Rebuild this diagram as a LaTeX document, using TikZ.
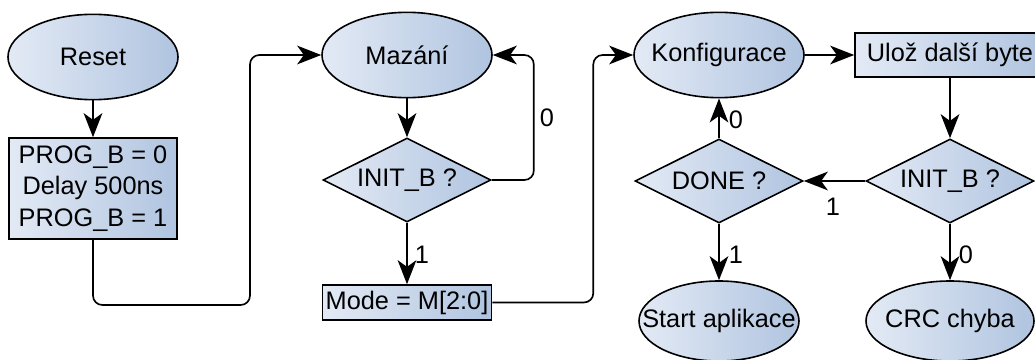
\documentclass[tikz,border=0pt]{standalone}
\usepackage{fontspec}
\setmainfont{Liberation Sans}
\usetikzlibrary{shapes.geometric,arrows.meta}
\definecolor{fillL}{HTML}{E3EAF5}
\definecolor{fillR}{HTML}{B0C4E0}
\newcommand\zw[1]{\makebox[0pt]{#1}}
\begin{document}
\begin{tikzpicture}[x=0.75pt,y=-0.75pt,
  font=\fontsize{19}{23.5}\selectfont,
  base/.style={draw=black, line width=1.2pt, left color=fillL, right color=fillR, inner sep=0pt},
  ell/.style={base, ellipse, minimum width=127.5pt, minimum height=64pt},
  dia/.style={base, diamond, minimum width=126pt, minimum height=63pt},
  box/.style={base, rectangle, align=center},
  conn/.style={draw, line width=1.25pt, rounded corners=7pt, -{Stealth[length=18pt,width=14pt,inset=5pt]}},
  lbl/.style={inner sep=0pt}]
\fill[white] (0,0) rectangle (1035,360);
\useasboundingbox (0,0) rectangle (1035,360);
% nodes
\node[ell] (reset) at (93,57) {\zw{Reset}};
\node[box, minimum width=126pt, minimum height=75.75pt] (prog) at (93,188.5) {PROG\_B = 0\\Delay 500ns\\PROG\_B = 1};
\node[ell] (maz) at (407,55) {\zw{Mazání}};
\node[dia] (d1) at (407,180) {\zw{INIT\_B ?}};
\node[box, minimum width=126.75pt, minimum height=26.25pt] (mode) at (407,302.5) {Mode = M[2:0]};
\node[ell] (konf) at (719,55) {\zw{Konfigurace}};
\node[box, minimum width=142.5pt, minimum height=33pt] (ulo) at (950,55) {Ulož další byte};
\node[dia] (d2) at (950,181) {\zw{INIT\_B ?}};
\node[dia] (done) at (719,181) {\zw{DONE ?}};
\node[ell, minimum width=120pt, minimum height=60pt] (start) at (719,321) {\zw{Start aplikace}};
\node[ell, minimum width=126pt, minimum height=60pt] (crc) at (950,321) {\zw{CRC chyba}};
% connectors
\draw[conn] (reset) -- (prog);
\draw[conn] (prog.south) |- (250,305) |- (maz.west);
\draw[conn] (maz) -- (d1);
\draw[conn] (d1.east) -- ++(42,0) |- (maz.east);
\draw[conn] (d1) -- (mode);
\draw[conn] (mode.east) -- ++(101,0) |- (konf.west);
\draw[conn] (konf) -- (ulo);
\draw[conn] (ulo.south) -- (d2.north);
\draw[conn] (d2.west) -- (done.east);
\draw[conn] (done) -- (konf);
\draw[conn] (done) -- (start);
\draw[conn] (d2) -- (crc);
% labels
\node[lbl] (l1) at (547,118) {0};
\node[lbl] (l2) at (422,255) {1};
\node[lbl] (l3) at (833,207) {1};
\node[lbl] (l4) at (736,120) {0};
\node[lbl] (l5) at (736,255) {1};
\node[lbl] (l6) at (966,255) {0};
\end{tikzpicture}
\end{document}
